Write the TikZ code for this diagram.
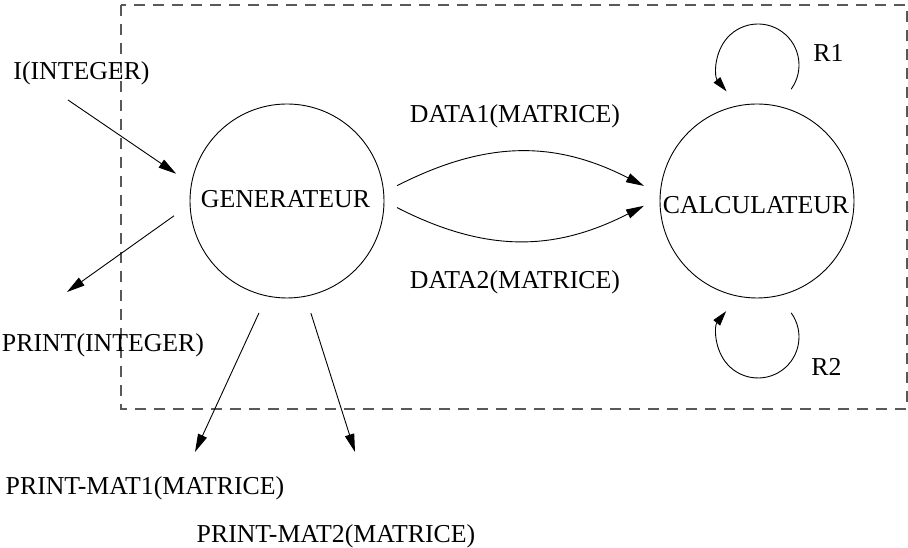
\documentclass[tikz,border=0pt]{standalone}
\usepackage{fontspec}
\setmainfont{Liberation Serif}
\usetikzlibrary{arrows.meta,calc}
\begin{document}
\begin{tikzpicture}[x=1pt,y=1pt,
  proc/.style={circle,draw,line width=0.9pt,minimum size=194pt,inner sep=0pt,outer sep=0pt},
  lbl/.style={inner sep=0pt,anchor=base,font=\fontsize{25.8}{30}\selectfont},
  arr/.style={line width=0.9pt,-{Triangle[length=18pt,width=9.5pt]}},
  looparr/.style={line width=0.9pt,-{Triangle[length=15pt,width=8.5pt]}},
  frame/.style={draw=black!65,line width=1.3pt,dash pattern=on 11pt off 8pt}]
\useasboundingbox (0,0) rectangle (908,548);
% frame
\draw[frame] (121,543) rectangle (907,139);
% processes
\node[proc] (gen) at (287,347) {};
\node[proc] (calc) at (757,347) {};
\node[lbl] (genl) at (285.5,340) {GENERATEUR};
\node[lbl] (calcl) at (756,334) {CALCULATEUR};
% labels
\node[lbl] (lI) at (81.5,468) {I(INTEGER)};
\node[lbl] (lP) at (103,196) {PRINT(INTEGER)};
\node[lbl] (lM1) at (145,53) {PRINT-MAT1(MATRICE)};
\node[lbl] (lM2) at (336,5) {PRINT-MAT2(MATRICE)};
\node[lbl] (lD1) at (515,425) {DATA1(MATRICE)};
\node[lbl] (lD2) at (515,259) {DATA2(MATRICE)};
\node[lbl] (lR1) at (828.5,486) {R1};
\node[lbl] (lR2) at (826.5,172) {R2};
% free ends
\coordinate (itail) at (68,448);
\coordinate (ptip) at (67,256);
\coordinate (m1tip) at (195,96);
\coordinate (m2tip) at (355,96);
% connectors
\draw[arr, shorten >=18.5pt] (itail) -- (gen.170.85);
\draw[arr, shorten <=19.7pt] (gen.182.8) -- (ptip);
\draw[arr, shorten <=18.9pt] (gen.258) -- (m1tip);
\draw[arr, shorten <=17.8pt] (gen.281.7) -- (m2tip);
\draw[arr, shorten <=15.1pt, shorten >=18.2pt] (gen.5.4) to[out=27,in=153,looseness=1.08] (calc.176);
\draw[arr, shorten <=14.6pt, shorten >=18pt] (gen.0.4) to[out=-27,in=-153,looseness=1.08] (calc.178.1);
% loops
\coordinate (r1c) at ($(calc)+(1,136)$);
\draw[looparr] ([shift={(-36:41)}]r1c) arc[start angle=-36,end angle=220,radius=41];
\coordinate (r2c) at ($(calc)+(1,-136)$);
\draw[looparr] ([shift={(36:41)}]r2c) arc[start angle=36,end angle=-219,radius=41];
\end{tikzpicture}
\end{document}
